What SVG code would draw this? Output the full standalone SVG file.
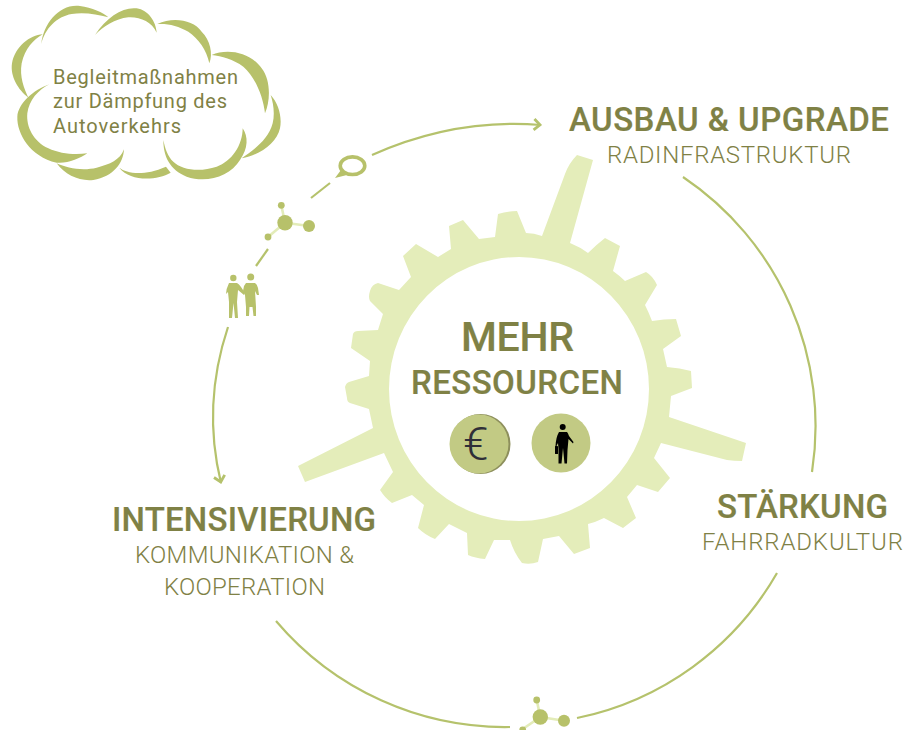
<svg xmlns="http://www.w3.org/2000/svg" width="919" height="730" viewBox="0 0 919 730">
<style>
text{font-family:Roboto,"DejaVu Sans",sans-serif;fill:#7f8145}
.h{font-size:33px;font-weight:500;stroke:#7f8145;stroke-width:.2}
.s{font-size:24px;font-weight:300}
.c{font-size:20px;font-weight:400}
.a{fill:none;stroke:#b5c26c;stroke-width:2.2}
.g{fill:#b7c16a}
.l{stroke:#e3ecb9;stroke-width:2.6}
</style>
<defs><marker id="arrow" markerUnits="userSpaceOnUse" markerWidth="16" markerHeight="16" refX="11" refY="8" orient="auto"><path d="M4,2.500 L10,8 L4,13.500" fill="none" stroke="#b5c26c" stroke-width="2.800"/></marker></defs>
<rect width="919" height="730" fill="#fff"/>
<g id="gear"><path fill="#e4edba" fill-rule="evenodd" d="M351,348 L353,334 Q354,331 358,331 L378,330 L383,314 L370,301 Q368,297 370,291 Q372,284 378,283 L399,290 L411,277 L403,256 L416,244 L438,257 L451,249 L449,226 L463,220 L479,239 L495,237 L498,214 Q507,211 517,211 L526,233 Q534,233 542,236 L565,174 Q569,163 577,155 L593,160 L570,243 Q580,247 588,253 Q596,245 605,238 L620,246 L613,271 Q620,276 625,281 L646,272 Q653,276 657,285 L645,305 Q649,313 652,321 Q664,319 676,319 L681,336 L663,349 L667,367 Q680,368 691,371 L692,388 L671,396 L669,417 L746,443 L742,461 Q734,461 727,460 L661,443 L654,458 L670,478 L658,492 L637,485 L627,497 L636,518 L623,528 L604,518 Q596,522 588,524 L590,548 L574,554 L559,536 L543,539 L538,562 Q530,565 522,563 Q514,553 510,540 L494,540 L485,559 Q475,558 468,555 L467,533 L449,524 L435,539 Q425,535 418,528 L424,505 L412,495 L392,503 Q385,498 380,490 L393,472 L384,453 L305,482 L298,466 L373,428 L369,409 L350,403 Q347,402 347,398 L345,387 Q346,383 349,382 L369,376 L370,361 Z M389,389 A130,132 0 1 0 649,389 A130,132 0 1 0 389,389 Z"/></g>
<g id="connectors" fill="none">
<path class="a" d="M372,155 Q455,118 541,125" marker-end="url(#arrow)"/>
<path class="a" d="M311,198 L330,183"/>
<path class="a" d="M256,266 L268,249"/>
<path class="a" d="M228,327 Q202,405 221,483" marker-end="url(#arrow)"/>
<path class="a" d="M683,177 A300,300 0 0 1 812,472"/>
<path class="a" d="M777,573 A300,300 0 0 1 577,718"/>
<path class="a" d="M510,727 A300,300 0 0 1 276,621"/>
</g>
<g id="cloud">
<g class="g" transform="scale(.33333)">
<path d="M124,132 C130,70 180,10 240,18 C275,22 310,38 325,52 C290,42 250,36 215,42 C170,50 135,85 124,132Z"/>
<path d="M285,105 C320,50 370,20 410,25 C445,30 468,65 470,98 C455,65 420,50 385,52 C345,56 310,80 285,105Z"/>
<path d="M472,72 C520,50 580,60 605,95 C630,120 640,160 628,190 C620,150 595,115 565,95 C535,78 505,70 472,72Z"/>
<path d="M635,165 C680,145 750,155 785,205 C812,240 812,300 795,340 C790,290 765,230 730,200 C700,178 665,168 635,165Z"/>
<path d="M812,285 C835,310 847,350 840,385 C830,430 780,465 725,475 C760,450 805,420 818,370 C825,340 820,310 812,285Z"/>
<path d="M490,420 C490,470 510,510 560,530 C620,550 690,530 720,480 C745,445 745,410 728,385 C728,435 695,485 650,500 C600,517 545,510 520,485 C503,470 495,445 490,420Z"/>
<path d="M358,503 C380,520 430,530 498,500 L512,518 C470,542 390,545 358,503Z"/>
<path d="M372,448 C370,490 340,530 280,540 C240,545 195,525 170,490 C200,505 250,513 290,503 C330,493 360,480 372,448Z"/>
<path d="M148,253 C100,270 55,310 52,350 C50,400 90,470 170,488 C200,492 240,475 262,460 C225,465 180,462 145,445 C100,425 78,380 82,340 C87,300 115,270 148,253Z"/>
<path d="M128,103 C90,105 45,140 36,190 C30,230 55,270 85,293 C72,265 58,230 65,190 C75,145 100,120 128,103Z"/>
</g>
<text class="c" x="53" y="84" textLength="185">Begleitmaßnahmen</text>
<text class="c" x="53" y="108" textLength="174">zur Dämpfung des</text>
<text class="c" x="53" y="133" textLength="128">Autoverkehrs</text>
</g>
<g id="speech-bubble"><ellipse cx="352.500" cy="165.700" rx="12.300" ry="8.800" fill="none" stroke="#b7c16a" stroke-width="3.600"/><path class="g" d="M335,178 L341,170 L347,175Z"/></g>
<g id="molecule-top">
<path class="l" d="M285,222.700 L309,226 M285,222.700 L281.300,205.300 M285,222.700 L268,237"/>
<circle class="g" cx="285" cy="222.700" r="7.700"/><circle class="g" cx="309" cy="226" r="6"/><circle class="g" cx="281.300" cy="205.300" r="3.400"/><circle class="g" cx="268" cy="237" r="3.400"/>
</g>
<g id="people"><g class="g">
<circle cx="233.300" cy="278" r="3.200"/><circle cx="250.700" cy="277" r="3.500"/>
<path d="M229,283 L237,283 Q239,284 241,287 L245,293 L244,295 L238,290 L237,302 L238,318 L235,318 L233.500,303 L232,318 L229,318 L229,302 L228,292 L226,294 Q226,289 229,283Z"/>
<path d="M246,283 L255,283 Q257,284 258,288 L259,295 L257,295 L255,291 L256,307 L256,316 L253.500,316 L252.500,307 L249.500,307 L249,316 L246,316 L246,307 L245,295 L243,291 L244,286Z"/>
</g></g>
<g id="molecule-bottom">
<path class="l" d="M540.300,717 L564,720.700 M540.300,717 L536.700,700 M540.300,717 L522.700,729"/>
<circle class="g" cx="540.300" cy="717" r="7.700"/><circle class="g" cx="564" cy="720.700" r="6"/><circle class="g" cx="536.700" cy="700" r="3.400"/><circle class="g" cx="522.700" cy="730" r="3.400"/>
</g>
<g id="ausbau"><text class="h" x="569" y="131" textLength="320">AUSBAU &amp; UPGRADE</text><text class="s" x="607" y="163" textLength="244">RADINFRASTRUKTUR</text></g>
<g id="staerkung"><text class="h" x="717" y="518" textLength="171">STÄRKUNG</text><text class="s" x="702" y="550" textLength="201">FAHRRADKULTUR</text></g>
<g id="intensivierung"><text class="h" x="112" y="531" textLength="264">INTENSIVIERUNG</text><text class="s" x="135" y="563" textLength="219">KOMMUNIKATION &amp;</text><text class="s" x="164" y="595" textLength="161">KOOPERATION</text></g>
<g id="mehr"><text class="h" x="461" y="351" style="font-size:41px" textLength="113">MEHR</text><text class="h" x="411" y="394" textLength="212">RESSOURCEN</text></g>
<g id="euro"><circle cx="480.500" cy="444" r="30" fill="#8d8f5c"/><circle cx="479" cy="444" r="29.500" fill="#c2ca84"/><text x="463" y="460" font-size="46" font-weight="300" style="fill:#2f2f38">€</text></g>
<g id="person"><circle cx="561" cy="443" r="29.500" fill="#c2ca84"/>
<circle cx="562.700" cy="427" r="3"/>
<path d="M559,432 L567,432 Q568,433 569,436 L573.500,442 L573,443.500 L568.500,439 L567.500,450 L567,463.500 L564.500,463.500 L563,448 L561.500,463.500 L558.500,463.500 L558.500,449 L558,443 L556.500,446 L557,451 L555,451 L555.500,446 Q556,437 559,432Z"/>
<rect x="555" y="446" width="3" height="8" rx="0.600"/></g>
</svg>
